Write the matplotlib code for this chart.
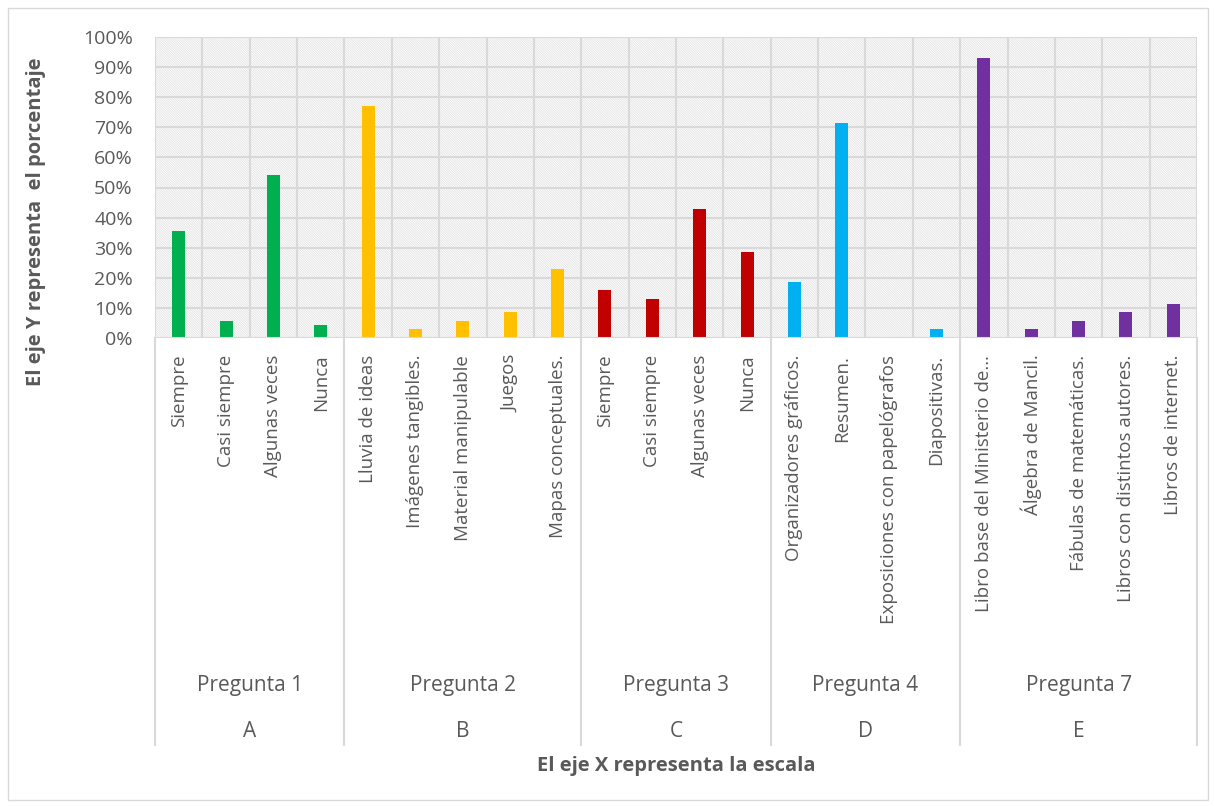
"""
  Porcentaje de respuestas por pregunta (barras agrupadas en categorias).
"""

import numpy as np
import matplotlib
matplotlib.use('Agg')
import matplotlib.pyplot as plt
from matplotlib.patches import Rectangle
from matplotlib.transforms import blended_transform_factory

################################################################################
# Data.                                                                        #
################################################################################

cats_a = ['Siempre', 'Casi siempre', 'Algunas veces', 'Nunca']
vals_a = [35.7, 5.7, 54.3, 4.3]

cats_b = ['Lluvia de ideas', 'Imágenes tangibles.', 'Material manipulable', 'Juegos',
          'Mapas conceptuales.']
vals_b = [77.1, 2.9, 5.7, 8.6, 22.9]

cats_c = ['Siempre', 'Casi siempre', 'Algunas veces', 'Nunca']
vals_c = [15.9, 12.9, 42.9, 28.6]

cats_d = ['Organizadores gráficos.', 'Resumen.', 'Exposiciones con papelógrafos',
          'Diapositivas.']
vals_d = [18.6, 71.4, 0.0, 2.9]

cats_e = ['Libro base del Ministerio de…', 'Álgebra de Mancil.', 'Fábulas de matemáticas.',
          'Libros con distintos autores.', 'Libros de internet.']
vals_e = [92.9, 2.9, 5.7, 8.6, 11.4]

preguntas = ['Pregunta 1', 'Pregunta 2', 'Pregunta 3', 'Pregunta 4', 'Pregunta 7']
letras = ['A', 'B', 'C', 'D', 'E']
colores = ['#00B050', '#FFC000', '#C00000', '#00B0F0', '#7030A0']

grupos = [(cats_a, vals_a), (cats_b, vals_b), (cats_c, vals_c), (cats_d, vals_d),
          (cats_e, vals_e)]

################################################################################
# Plot.                                                                        #
################################################################################

plt.rcParams['font.family'] = ['Open Sans', 'DejaVu Sans']
plt.rcParams['hatch.linewidth'] = 0.6
txt = '#595959'
grid = '#d9d9d9'

fig = plt.figure(figsize=(12.14, 8.06), dpi=100)
ax = fig.add_axes([155/1214, 1 - 338/806, (1197-155)/1214, (338-37)/806])

# Background hatch.
ax.patch.set_facecolor('white')
ax.add_patch(Rectangle((0, 0), 1, 1, transform=ax.transAxes, facecolor='white',
                       edgecolor='#e2e2e2', lw=0, hatch='\\' * 14, zorder=0))

labels = []
pos = 0
limites = [0]
centros = []
for (cats, vals), col in zip(grupos, colores):
    x = np.arange(pos, pos + len(cats))
    ax.bar(x, vals, width=0.275, color=col, zorder=3)
    labels += cats
    centros.append(pos + (len(cats) - 1) / 2)
    pos += len(cats)
    limites.append(pos)

n = len(labels)
ax.set_xlim(-0.5, n - 0.5)
ax.set_ylim(0, 100)
ax.set_yticks(np.arange(0, 101, 10))
ax.set_yticklabels([f'{v}%' for v in range(0, 101, 10)], fontsize=14, color=txt)
ax.set_xticks(np.arange(n))
ax.set_xticklabels(labels, rotation=90, fontsize=13.5, color=txt)
ax.tick_params(axis='y', length=0, pad=16)
ax.tick_params(axis='x', length=0, pad=12)

# Grid.
for y in range(10, 101, 10):
    ax.axhline(y, color=grid, lw=1.5, zorder=1)
for i in range(n + 1):
    ax.axvline(i - 0.5, color=grid, lw=1.5, zorder=1)
ax.axhline(0, color=grid, lw=1.5, zorder=4)
for s in ax.spines.values():
    s.set_visible(False)

# Group separators and labels below the axis.
tr = blended_transform_factory(ax.transData, ax.transAxes)
bajo = -(745 - 338) / 301
for b in limites:
    ax.plot([b - 0.5, b - 0.5], [0, bajo], color=grid, lw=1.5, transform=tr,
            clip_on=False)
for c, p, l in zip(centros, preguntas, letras):
    ax.text(c, -(685 - 338) / 301, p, transform=tr, ha='center', va='center',
            fontsize=15, color=txt)
    ax.text(c, -(731 - 338) / 301, l, transform=tr, ha='center', va='center',
            fontsize=15, color=txt)

fig.text(676/1214, 1 - 766/806, 'El eje X representa la escala', ha='center',
         va='center', fontsize=14.5, fontweight='bold', color=txt)
fig.text(36/1214, 1 - 222/806, 'El eje Y representa  el porcentaje', ha='center',
         va='center', rotation=90, fontsize=14.5, fontweight='bold', color=txt)

# Outer border.
fig.patches.append(Rectangle((8/1214, 6/806), 1 - 14/1214, 1 - 14/806,
                             transform=fig.transFigure, fill=False,
                             edgecolor=grid, lw=1))

fig.savefig('out.png', dpi=100)
plt.close()
